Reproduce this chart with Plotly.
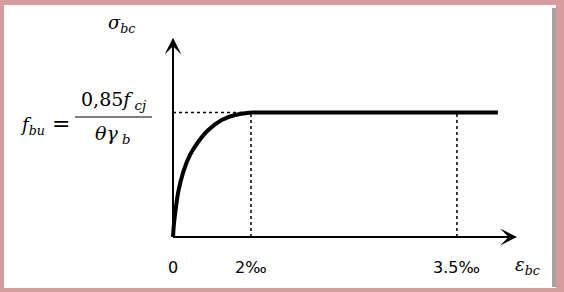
import plotly.graph_objects as go

# ---- data (schematic parabola-rectangle diagram) ----
curve_strain = [0, 0.02, 0.05, 0.136, 0.264, 0.436, 0.649, 0.905, 1.249, 1.59, 2.0]
curve_stress = [0, 0.09, 0.177, 0.364, 0.524, 0.659, 0.765, 0.859, 0.940, 0.98, 1.0]
plateau_strain = [2.0, 8.33]
plateau_stress = [1.0, 1.0]
tick_pos = [0, 2, 7.28]
tick_text = ["0", "2‰", "3.5‰"]
x_axis_end = 8.82
y_axis_end = 1.6

W, H = 564, 292
X0, Y0, SX, SY = 173, 237, 39, 124.5  # pixel mapping for ranges

def pxp(x):
    return x / W

def pyp(y):
    return 1 - y / H

fig = go.Figure()

# dashed guides
fig.add_trace(go.Scatter(x=[0, tick_pos[1]], y=[1, 1], mode="lines",
                         line=dict(color="black", width=1.3, dash="3px,3px"), hoverinfo="skip"))
for xv in tick_pos[1:]:
    fig.add_trace(go.Scatter(x=[xv, xv], y=[0, 1], mode="lines",
                             line=dict(color="black", width=1.5, dash="3px,3px"), hoverinfo="skip"))

# axes lines
fig.add_trace(go.Scatter(x=[0, x_axis_end - 0.1], y=[0, 0], mode="lines",
                         line=dict(color="black", width=2), hoverinfo="skip"))
fig.add_trace(go.Scatter(x=[0, 0], y=[0, y_axis_end - 0.03], mode="lines",
                         line=dict(color="black", width=2), hoverinfo="skip"))

# curve
fig.add_trace(go.Scatter(x=curve_strain, y=curve_stress, mode="lines",
                         line=dict(color="black", width=4, shape="spline", smoothing=0.8), hoverinfo="skip"))
fig.add_trace(go.Scatter(x=plateau_strain, y=plateau_stress, mode="lines",
                         line=dict(color="black", width=4), hoverinfo="skip"))

annotations = []
# arrowheads
annotations.append(dict(x=x_axis_end, y=0, ax=x_axis_end - 1, ay=0, xref="x", yref="y",
                        axref="x", ayref="y", text="", showarrow=True, arrowhead=3,
                        arrowsize=1.4, arrowwidth=2, arrowcolor="black"))
annotations.append(dict(x=0, y=y_axis_end, ax=0, ay=y_axis_end - 0.3, xref="x", yref="y",
                        axref="x", ayref="y", text="", showarrow=True, arrowhead=3,
                        arrowsize=1.4, arrowwidth=2, arrowcolor="black"))

# tick labels
tick_font = dict(family="DejaVu Sans", size=16, color="black")
for xv, t in zip(tick_pos, tick_text):
    annotations.append(dict(x=xv, y=-0.245, xref="x", yref="y", text=t, showarrow=False,
                            font=tick_font, xanchor="center", yanchor="middle"))

math_font = dict(family="DejaVu Serif", size=18, color="black")
big_math = dict(family="DejaVu Serif", size=19, color="black")

def label(x, y, text, font=math_font):
    annotations.append(dict(x=pxp(x), y=pyp(y), xref="paper", yref="paper", text=text,
                            showarrow=False, font=font, xanchor="center", yanchor="middle"))

label(527, 266, "<i>ε</i><sub><i>bc</i></sub>")
label(121, 24, "<i>σ</i><sub><i>bc</i></sub>")
label(32, 126, "<i>f</i><sub><i>bu</i></sub>")
label(61, 124, "=", dict(family="DejaVu Serif", size=22, color="black"))
label(114, 101, "0,85<i>f</i><sub><i> cj</i></sub>", big_math)
label(113, 134, "<i>θγ</i><sub><i> b</i></sub>", big_math)

shapes = []
# fraction bar
shapes.append(dict(type="line", xref="paper", yref="paper", x0=pxp(75), x1=pxp(152),
                   y0=pyp(117), y1=pyp(117), line=dict(color="black", width=1.2)))
pink = "#d69b9b"
gray = "#a3a3a3"
# frame
shapes.append(dict(type="rect", xref="paper", yref="paper", x0=0, x1=pxp(4), y0=0, y1=1,
                   fillcolor=pink, line=dict(width=0), layer="above"))
shapes.append(dict(type="rect", xref="paper", yref="paper", x0=0, x1=1, y0=pyp(5), y1=1,
                   fillcolor=pink, line=dict(width=0), layer="above"))
shapes.append(dict(type="rect", xref="paper", yref="paper", x0=pxp(552), x1=pxp(556), y0=pyp(287), y1=pyp(8),
                   fillcolor=gray, line=dict(width=0), layer="above"))
shapes.append(dict(type="rect", xref="paper", yref="paper", x0=pxp(556), x1=1, y0=0, y1=1,
                   fillcolor=pink, line=dict(width=0), layer="above"))
shapes.append(dict(type="rect", xref="paper", yref="paper", x0=0, x1=1, y0=0, y1=pyp(288),
                   fillcolor=pink, line=dict(width=0), layer="above"))

fig.update_layout(
    width=W, height=H, margin=dict(l=0, r=0, t=0, b=0),
    paper_bgcolor="white", plot_bgcolor="white", showlegend=False,
    xaxis=dict(range=[-X0 / SX, (W - X0) / SX], visible=False, fixedrange=True),
    yaxis=dict(range=[(Y0 - H) / SY, Y0 / SY], visible=False, fixedrange=True),
    annotations=annotations, shapes=shapes,
)

fig.write_html("out.html")
